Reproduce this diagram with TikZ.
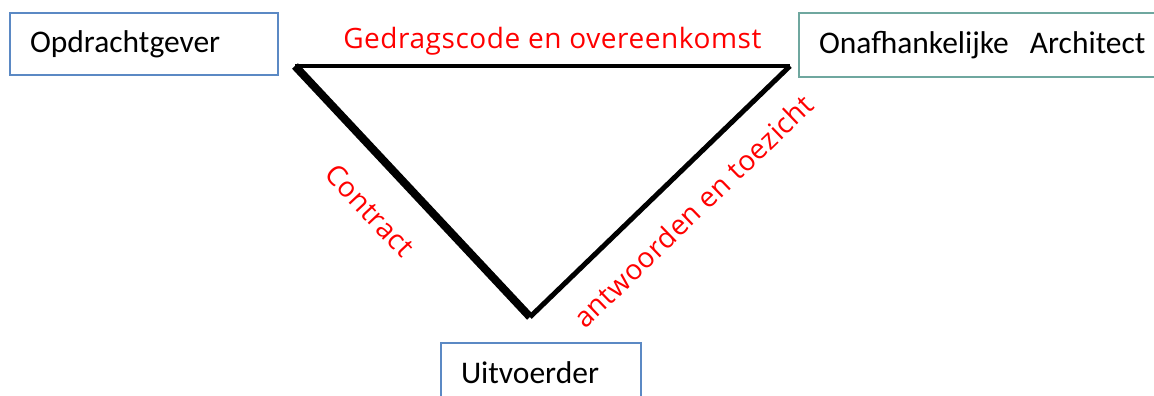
\documentclass[tikz,border=0pt]{standalone}
\usepackage{fontspec}
\setmainfont{Carlito}
\newfontfamily\labelfont[LetterSpace=2]{Open Sans}
\usetikzlibrary{positioning}
\definecolor{boxblue}{HTML}{5B89C4}
\definecolor{boxteal}{HTML}{6FA79F}
\definecolor{labelred}{HTML}{FF0000}
\tikzset{
	party/.style = {draw=boxblue, line width=1.5pt, rectangle, inner xsep=20pt,
		align=left, font=\fontsize{31.5}{38}\selectfont},
	relation/.style = {labelred, font=\labelfont\fontsize{28}{34}\selectfont, sloped}
}

\begin{document}
\begin{tikzpicture}[x=1pt, y=1pt]
	\useasboundingbox (0,0) rectangle (1154,-396);
	% corners of the triangle
	\coordinate (top left) at (295,-66);
	\coordinate (top right) at (790,-66);
	\coordinate (bottom) at (530,-317);
	% the three parties
	\node[party, minimum height=62pt, text width=228pt] (opdrachtgever) at (144,-44) {Opdrachtgever};
	\node[party, draw=boxteal, minimum height=64pt, text width=330pt] (architect) at (984,-45) {Onafhankelijke\ \ Architect};
	\node[party, minimum height=60pt, text width=160pt] (uitvoerder) at (541,-373) {Uitvoerder};
	% relations
	\draw[line width=4pt] (top left) -- (top right)
		node[relation, pos=0.52, yshift=25pt] (code) {Gedragscode en overeenkomst};
	\draw[line width=8pt] (top left) -- (bottom)
		node[relation, pos=0.455, yshift=-44pt] (contract) {Contract};
	\draw[line width=5pt] (bottom) -- (top right)
		node[relation, pos=0.528, yshift=-37pt] (toezicht) {antwoorden en toezicht};
\end{tikzpicture}
\end{document}
